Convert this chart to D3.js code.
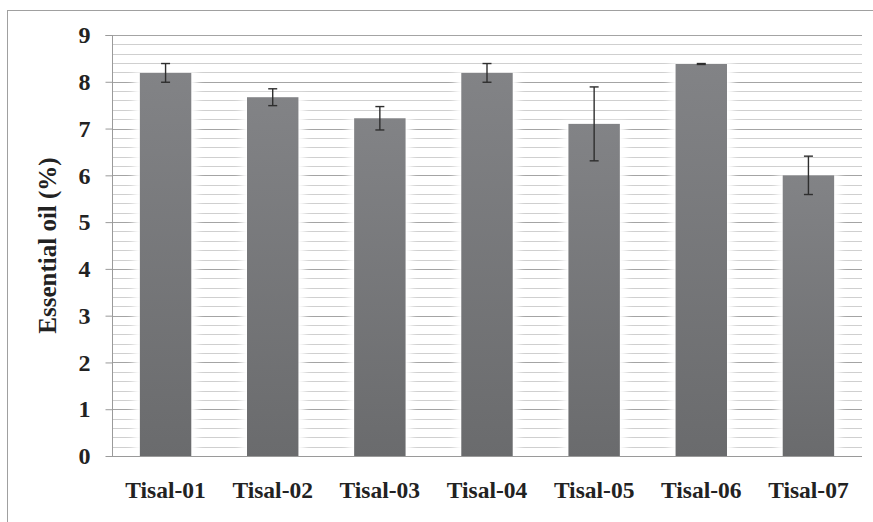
<!DOCTYPE html>
<html><head><meta charset="utf-8">
<script src="https://cdn.jsdelivr.net/npm/d3@7"></script>
<style>body{margin:0;background:#fff}svg{display:block}
.t{font-family:"Liberation Serif","Times New Roman",Times,serif;font-weight:bold;fill:#222}</style>
</head><body>
<script>
const categories = ["Tisal-01","Tisal-02","Tisal-03","Tisal-04","Tisal-05","Tisal-06","Tisal-07"];
const values = [8.19, 7.67, 7.22, 8.19, 7.10, 8.38, 6.00];
const errors = [0.20, 0.18, 0.25, 0.20, 0.79, 0.01, 0.41];
const yTicks = [0,1,2,3,4,5,6,7,8,9];
const yTitle = "Essential oil (%)";

const W = 873, H = 522;
const m = {l:112, r:11, t:35, b:66};
const svg = d3.select("body").append("svg").attr("width",W).attr("height",H);
const defs = svg.append("defs");
const grad = defs.append("linearGradient").attr("id","bg").attr("x1",0).attr("y1",0).attr("x2",0).attr("y2",1);
grad.append("stop").attr("offset","0%").attr("stop-color","#828386");
grad.append("stop").attr("offset","100%").attr("stop-color","#6a6b6d");
const f = defs.append("filter").attr("id","glow").attr("x","-50%").attr("y","-20%").attr("width","200%").attr("height","140%");
f.append("feGaussianBlur").attr("stdDeviation",3.5);

// outer border
svg.append("rect").attr("x",7.5).attr("y",10.5).attr("width",W).attr("height",H)
  .attr("fill","none").attr("stroke","#a0a0a0").attr("stroke-width",1);

const x = d3.scaleBand().domain(categories).range([m.l, W-m.r]).paddingInner(0.52).paddingOuter(0.26);
const y = d3.scaleLinear().domain([0,9]).range([H-m.b, m.t]);

// minor gridlines
const minor = d3.range(0, 9.001, 0.2).filter(v => Math.abs(v - Math.round(v)) > 1e-6);
svg.append("g").selectAll("line").data(minor).join("line")
  .attr("x1",m.l).attr("x2",W-m.r)
  .attr("y1",d=>Math.round(y(d))+0.5).attr("y2",d=>Math.round(y(d))+0.5)
  .attr("stroke","#cfcfcf").attr("stroke-width",1);
svg.append("g").selectAll("line").data(yTicks.slice(1)).join("line")
  .attr("x1",m.l).attr("x2",W-m.r)
  .attr("y1",d=>Math.round(y(d))+0.5).attr("y2",d=>Math.round(y(d))+0.5)
  .attr("stroke","#a4a4a4").attr("stroke-width",1);

// glow behind bars
svg.append("g").selectAll("rect").data(categories).join("rect")
  .attr("x",d=>x(d)-6).attr("width",x.bandwidth()+12)
  .attr("y",(d,i)=>y(values[i])-2).attr("height",(d,i)=>y(0)-y(values[i])+2)
  .attr("fill","#fff").attr("filter","url(#glow)");

// bars
svg.append("g").selectAll("rect").data(categories).join("rect")
  .attr("x",d=>x(d)).attr("width",x.bandwidth())
  .attr("y",(d,i)=>y(values[i])).attr("height",(d,i)=>y(0)-y(values[i]))
  .attr("fill","url(#bg)");

// error bars
const eb = svg.append("g").attr("stroke","#2e2e2e").attr("stroke-width",1.4);
categories.forEach((c,i)=>{
  const cx = x(c)+x.bandwidth()/2;
  const y1 = y(values[i]+errors[i]), y2 = y(values[i]-errors[i]);
  eb.append("line").attr("x1",cx).attr("x2",cx).attr("y1",y1).attr("y2",y2);
  eb.append("line").attr("x1",cx-4.5).attr("x2",cx+4.5).attr("y1",y1).attr("y2",y1);
  eb.append("line").attr("x1",cx-4.5).attr("x2",cx+4.5).attr("y1",y2).attr("y2",y2);
});

// y axis
const ya = svg.append("g").attr("transform",`translate(${m.l+0.5},0)`)
  .call(d3.axisLeft(y).tickValues(yTicks).tickSize(7).tickPadding(15).tickFormat(d3.format("d")));
ya.select(".domain").attr("stroke","#9a9a9a").attr("d",`M-7,${y(9)+0.5}H0V${y(0)+0.5}`);
ya.selectAll(".tick line").attr("stroke","#9a9a9a");
ya.attr("font-family",null).attr("font-size",null);
ya.selectAll("text").attr("class","t").attr("font-size",24).attr("fill","#222");

// x axis line
svg.append("line").attr("x1",m.l).attr("x2",W-m.r).attr("y1",y(0)+0.5).attr("y2",y(0)+0.5)
  .attr("stroke","#9a9a9a").attr("stroke-width",1.2);

// x labels
svg.append("g").selectAll("text").data(categories).join("text")
  .attr("class","t")
  .attr("x",d=>x(d)+x.bandwidth()/2).attr("y",498)
  .attr("text-anchor","middle")
  .attr("font-size",23.5)
  .text(d=>d);

// y title
svg.append("text").attr("class","t").attr("transform",`translate(56,${(y(0)+y(9))/2}) rotate(-90)`)
  .attr("text-anchor","middle")
  .attr("font-size",25)
  .text(yTitle);
</script>
</body></html>
